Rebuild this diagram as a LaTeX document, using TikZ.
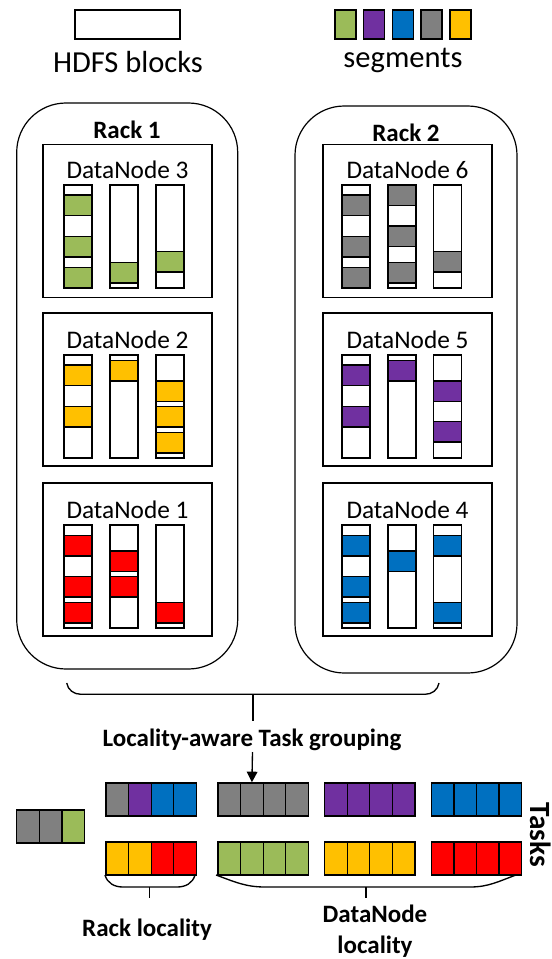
\documentclass[tikz,border=0pt]{standalone}
\usepackage{fontspec}
\setmainfont{Carlito}
\usetikzlibrary{arrows.meta}
\definecolor{sgreen}{HTML}{9BBB59}
\definecolor{spurple}{HTML}{7030A0}
\definecolor{sblue}{HTML}{0070C0}
\definecolor{sgray}{HTML}{808080}
\definecolor{syellow}{HTML}{FFC000}
\definecolor{sred}{HTML}{FF0000}
\newcommand{\bcol}[5]{%
  \node[colbox] (#1) at (#2+14,#3+51.5) {};
  \foreach \s in {#5}{\draw[segline,fill=#4] (#2,#3+\s) rectangle ++(28,20.5);}
  \node[colbox,fill=none] (#1o) at (#1) {};
}
\newcommand{\tgrp}[4]{%
  \foreach \cc [count=\i] in {#4}{\node[cell,fill=\cc] (#1\i) at ({#2+(\i-0.5)*22.6},#3+16.5) {};}
}
\begin{document}
\begin{tikzpicture}[x=0.75pt,y=-0.75pt,
  rack/.style={draw,line width=0.9pt,rounded corners=37pt,minimum width=166pt,minimum height=425pt,inner sep=0pt},
  dnbox/.style={draw,line width=1.1pt,minimum width=126.75pt,minimum height=114.75pt,inner sep=0pt},
  colbox/.style={draw,line width=1.1pt,fill=white,minimum width=21pt,minimum height=77.25pt,inner sep=0pt},
  segline/.style={line width=1.1pt},
  cell/.style={draw,line width=1pt,minimum width=16.95pt,minimum height=24.75pt,inner sep=0pt},
  legseg/.style={draw,line width=1.1pt,minimum width=15.75pt,minimum height=21.75pt,inner sep=0pt},
  legtxt/.style={font=\fontsize{22.9}{27}\selectfont},
  dntxt/.style={font=\fontsize{19}{23}\selectfont,inner sep=0pt},
  btxt/.style={font=\fontsize{18.75}{23.5}\selectfont\bfseries,inner sep=0pt},
  brace/.style={line width=1pt}]
\useasboundingbox (0,0) rectangle (552,959);
% legend
\node[colbox,minimum width=78.75pt,minimum height=21.75pt] (hdfs) at (127.5,24.5) {};
\node[legtxt] (hdfst) at (128,62) {HDFS blocks};
\foreach \cc [count=\i] in {sgreen,spurple,sblue,sgray,syellow}{\node[legseg,fill=\cc] (leg\i) at ({345.5+(\i-1)*28.7},24.5) {};}
\node[legtxt] (segt) at (403,60) {segments};
% racks
\node[rack,minimum width=165.75pt,minimum height=424.5pt] (rack1) at (127.2,386) {};
\node[rack,minimum width=166.5pt,minimum height=425.25pt] (rack2) at (406,389.5) {};
\node[btxt] (r1t) at (127,130) {Rack 1};
\node[btxt] (r2t) at (406,133) {Rack 2};
% datanode boxes
\node[dnbox] (dn3) at (127.5,221) {};
\node[dnbox] (dn2) at (127.5,389.5) {};
\node[dnbox] (dn1) at (127.5,559.5) {};
\node[dnbox] (dn6) at (407.5,221) {};
\node[dnbox] (dn5) at (407.5,389.5) {};
\node[dnbox] (dn4) at (407.5,559.5) {};
\node[dntxt] (dn3t) at (127.5,170) {DataNode 3};
\node[dntxt] (dn2t) at (127.5,340) {DataNode 2};
\node[dntxt] (dn1t) at (127.5,510) {DataNode 1};
\node[dntxt] (dn6t) at (407.5,170) {DataNode 6};
\node[dntxt] (dn5t) at (407.5,340) {DataNode 5};
\node[dntxt] (dn4t) at (407.5,510) {DataNode 4};
% blocks
\bcol{c31}{64}{185}{sgreen}{10,51.7,82.3}
\bcol{c32}{110}{185}{sgreen}{77.7}
\bcol{c33}{156}{185}{sgreen}{66.7}
\bcol{c21}{64}{355}{syellow}{10,51.7}
\bcol{c22}{110}{355}{syellow}{5.7}
\bcol{c23}{156}{355}{syellow}{26,51.7,77.7}
\bcol{c11}{64}{525}{sred}{10.7,51.7,77.3}
\bcol{c12}{110}{525}{sred}{26,51.7}
\bcol{c13}{156}{525}{sred}{77.3}
\bcol{c61}{342}{185}{sgray}{10,51.7,82.3}
\bcol{c62}{388}{185}{sgray}{0,41,77.3}
\bcol{c63}{433.5}{185}{sgray}{66.7}
\bcol{c51}{342}{355}{spurple}{10,51.7}
\bcol{c52}{388}{355}{spurple}{5.7}
\bcol{c53}{433.5}{355}{spurple}{26,66.7}
\bcol{c41}{342}{525}{sblue}{10.7,51.7,77.3}
\bcol{c42}{388}{525}{sblue}{26}
\bcol{c43}{433.5}{525}{sblue}{10.7,77.3}
% top brace
\coordinate (tbl) at (66.7,683);
\coordinate (tbr) at (439,683);
\coordinate (tbm) at (253,694.3);
\coordinate (tbt) at (253,721);
\draw[brace] (tbl) to[out=-80,in=180] (81,694.3) -- (425,694.3) to[out=0,in=-100] (tbr);
\draw[brace] (tbm) -- (tbt);
\node[btxt] (lat) at (252,740) {Locality-aware Task grouping};
% tasks
\tgrp{a}{106}{783}{sgray,spurple,sblue,sblue}
\tgrp{b}{218}{783}{sgray,sgray,sgray,sgray}
\tgrp{c}{324.6}{783}{spurple,spurple,spurple,spurple}
\tgrp{d}{431.3}{783}{sblue,sblue,sblue,sblue}
\tgrp{e}{106}{842}{syellow,syellow,sred,sred}
\tgrp{f}{218}{842}{sgreen,sgreen,sgreen,sgreen}
\tgrp{g}{324.6}{842}{syellow,syellow,syellow,syellow}
\tgrp{h}{431.3}{842}{sred,sred,sred,sred}
\tgrp{l}{16.7}{810}{sgray,sgray,sgreen}
\coordinate (arrs) at (252.5,752);
\draw[line width=1pt,-{Triangle[width=8pt,length=8pt]}] (arrs) -- (b2.north);
\node[btxt,rotate=-90,font=\fontsize{22}{26}\selectfont\bfseries] (tasks) at (541,835) {Tasks};
% bottom braces
\coordinate (rbl) at (105,875);
\coordinate (rbr) at (195,875);
\coordinate (rbm) at (149.5,887);
\coordinate (rbt) at (149.5,898);
\draw[brace] (rbl) to[out=-75,in=180] (123,887) -- (177,887) to[out=0,in=-105] (rbr);
\draw[brace] (rbm) -- (rbt);
\coordinate (dbl) at (216,875);
\coordinate (dbr) at (516,875);
\coordinate (dbm) at (366,887);
\coordinate (dbt) at (366,898);
\draw[brace] (dbl) to[out=-20,in=180] (265,887) -- (470,887) to[out=0,in=-160] (dbr);
\draw[brace] (dbm) -- (dbt);
\node[btxt] (rl) at (147,930) {Rack locality};
\node[btxt,align=center,font=\fontsize{18.75}{23.5}\selectfont\bfseries] (dl) at (375,931) {DataNode\\locality};
\end{tikzpicture}
\end{document}
